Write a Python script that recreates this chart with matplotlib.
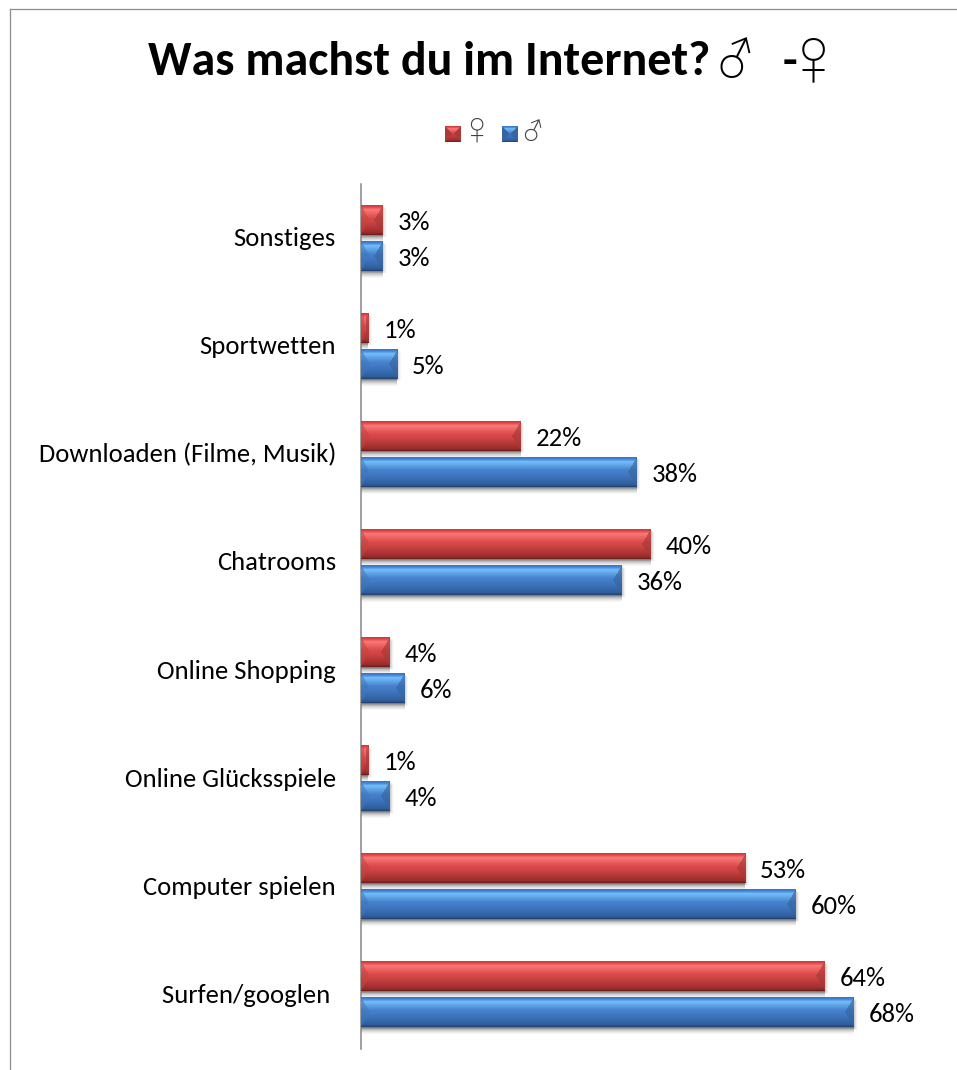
import numpy as np
import matplotlib
matplotlib.use("Agg")
import matplotlib.pyplot as plt
from matplotlib.image import BboxImage
from matplotlib.legend_handler import HandlerBase
from matplotlib.lines import Line2D
from matplotlib.patches import Patch
from matplotlib.transforms import Bbox, TransformedBbox

categories = ["Surfen/googlen ", "Computer spielen", "Online Glücksspiele", "Online Shopping",
              "Chatrooms", "Downloaden (Filme, Musik)", "Sportwetten", "Sonstiges"]
female = [64, 53, 1, 4, 40, 22, 1, 3]
male = [68, 60, 4, 6, 36, 38, 5, 3]
series_names = ["♀", "♂"]

W, H = 957, 1070
SYMBOL_FONTS = ["Dotum", "DejaVu Sans"]
LABEL_SIZE = 19.2
TITLE_SIZE = 34.6
plt.rcParams["font.family"] = ["Carlito", "Lato", "DejaVu Sans"]

# Vertical shading of a bar, as (position, rgb) stops
RED_STOPS = [(0, (205, 55, 55)), (.07, (225, 70, 70)), (.16, (250, 120, 120)), (.45, (220, 75, 75)),
             (.85, (165, 48, 48)), (.93, (150, 42, 42)), (1, (100, 28, 28))]
BLUE_STOPS = [(0, (55, 115, 200)), (.07, (65, 130, 215)), (.16, (115, 190, 250)), (.45, (70, 130, 205)),
              (.85, (50, 100, 165)), (.93, (45, 90, 150)), (1, (35, 62, 105))]


def shade(stops, h):
    pos = np.array([s[0] for s in stops])
    col = np.array([s[1] for s in stops], float)
    t = (np.arange(h) + .5) / h
    return np.stack([np.interp(t, pos, col[:, i]) for i in range(3)], axis=1)


def bevel_image(stops, w, h, bevel=0.6):
    """Bar face of w x h pixels with a wedge-shaped facet at either end."""
    w, h = max(int(round(w)), 1), int(h)
    base = shade(stops, h)
    img = np.repeat(base[:, None, :], w, axis=1)
    mid = np.mean(base[int(h * .35):int(h * .75)], axis=0)
    yy, xx = np.mgrid[0:h, 0:w]
    edge = np.minimum(yy + .5, h - yy - .5)
    reach = np.minimum(edge * bevel, w / 2)
    left = (xx + .5) < reach
    right = (w - xx - .5) < reach
    img[left] = img[left] * .45 + mid * .55 * .95
    img[right] = img[right] * .35 + mid * .65 * .8
    return np.clip(img, 0, 255).astype(np.uint8)


def swatch_image(stops, n=32):
    img = bevel_image(stops, n, n, bevel=0)
    yy, xx = np.mgrid[0:n, 0:n]
    side = np.minimum(xx, n - 1 - xx) < np.minimum(yy, n - 1 - yy)
    img = img.astype(float)
    img[side] = np.array(stops[3][1], float) * .78
    return img.astype(np.uint8)


class SwatchHandler(HandlerBase):
    def create_artists(self, legend, orig_handle, xdescent, ydescent, width, height, fontsize, trans):
        box = Bbox.from_bounds(width - 11.5, -1.5, 11.5, 11.5)
        art = BboxImage(TransformedBbox(box, trans), interpolation="bilinear")
        art.set_data(swatch_image(orig_handle.stops))
        return [art]


fig = plt.figure(figsize=(W / 100, H / 100), dpi=100, facecolor="white")

# Chart frame, open on the right and at the bottom
fig.add_artist(Line2D([10 / W, 10 / W], [0, 1 - 8.5 / H], color="#8c8c8c", lw=.9))
fig.add_artist(Line2D([10 / W, 1], [1 - 8.5 / H, 1 - 8.5 / H], color="#8c8c8c", lw=.9))

ax = fig.add_axes([361 / W, 1 - 1049 / H, (W - 361) / W, (1049 - 184) / H])
PX_X = 7.25
PX_Y = 1 / 108
bar_h = 29
offset = 18

for series, stops, sign in ((female, RED_STOPS, 1), (male, BLUE_STOPS, -1)):
    ypos = np.arange(len(series)) + sign * offset * PX_Y
    # Soft drop shadow under and beside each bar
    for k, a in zip(range(7, 0, -1), (.03, .04, .06, .07, .08, .09, .1)):
        ax.barh(ypos - k * PX_Y, series, height=bar_h * PX_Y, color="black", alpha=a, lw=0, zorder=1)
        ax.barh(ypos - k * .4 * PX_Y, np.array(series) + (k * .55) / PX_X, height=bar_h * PX_Y,
                color="black", alpha=a * .45, lw=0, zorder=1)
    ax.barh(ypos, series, height=bar_h * PX_Y, color=[c / 255 for c in stops[3][1]], lw=0, zorder=2)
    for v, y in zip(series, ypos):
        ax.imshow(bevel_image(stops, v * PX_X, bar_h),
                  extent=(0, v, y - bar_h * PX_Y / 2, y + bar_h * PX_Y / 2),
                  aspect="auto", interpolation="nearest", zorder=3)
        ax.text(v + 15 / PX_X, y, f"{v}%", va="center_baseline", ha="left",
                fontsize=LABEL_SIZE, color="black")

ax.set_xlim(0, (W - 361) / PX_X)
ax.set_ylim(-.5, 7.5)
# Category names sit slightly above the centre of each group
ax.set_yticks(np.arange(len(categories)) + 1.5 * PX_Y, categories, fontsize=LABEL_SIZE, color="black")
for tick_label in ax.get_yticklabels():
    tick_label.set_verticalalignment("center_baseline")
ax.tick_params(axis="y", length=0, pad=18)
ax.xaxis.set_visible(False)
for name in ("top", "right", "bottom"):
    ax.spines[name].set_visible(False)
ax.spines["left"].set_color("#868686")
ax.spines["left"].set_linewidth(1.1)
ax.patch.set_alpha(0)

# Title, with the gender signs set in a lighter face
fig.text(148 / W, 1 - 62 / H, "Was machst du im Internet?", fontsize=TITLE_SIZE, fontweight="bold",
         va="center", ha="left")
fig.text(735 / W, 1 - 60 / H, "♂", family=SYMBOL_FONTS, fontsize=38, va="center", ha="center")
fig.text(790 / W, 1 - 62 / H, "-", fontsize=TITLE_SIZE, fontweight="bold", va="center", ha="center")
fig.text(813 / W, 1 - 62 / H, "♀", family=SYMBOL_FONTS, fontsize=38, va="center", ha="center")

# Legend
h1 = Patch(color="#d04a4a", label=series_names[0])
h1.stops = RED_STOPS
h2 = Patch(color="#3f78c0", label=series_names[1])
h2.stops = BLUE_STOPS
fig.legend(handles=[h1, h2], handler_map={Patch: SwatchHandler()}, ncols=2, frameon=False,
           loc="center", bbox_to_anchor=(493 / W, 1 - 131 / H),
           prop={"family": SYMBOL_FONTS, "size": 21}, labelcolor="#404040",
           handlelength=.57, handletextpad=.2, columnspacing=.55, borderpad=0)

fig.savefig("out.png", dpi=100)
